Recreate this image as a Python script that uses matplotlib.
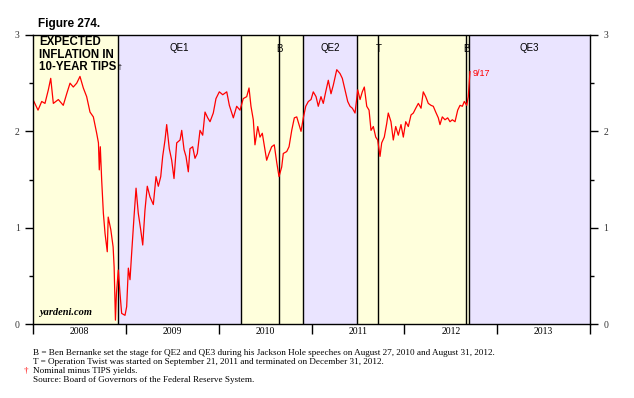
import matplotlib
matplotlib.use('Agg')
import matplotlib.pyplot as plt
import numpy as np

# decimal years and expected inflation (10-yr nominal minus TIPS)
years = [2008.00, 2008.054, 2008.094, 2008.129, 2008.165, 2008.191, 2008.219, 2008.273,
         2008.326, 2008.363, 2008.399, 2008.434, 2008.471, 2008.506, 2008.542, 2008.578,
         2008.614, 2008.650, 2008.686, 2008.705, 2008.714, 2008.725, 2008.740, 2008.758,
         2008.776, 2008.800, 2008.810, 2008.838, 2008.863, 2008.874, 2008.888, 2008.899,
         2008.919, 2008.937, 2008.955, 2008.991, 2009.009, 2009.027, 2009.045, 2009.063,
         2009.088, 2009.110, 2009.134, 2009.160, 2009.182, 2009.206, 2009.231, 2009.260,
         2009.296, 2009.325, 2009.350, 2009.376, 2009.397, 2009.422, 2009.440, 2009.468,
         2009.494, 2009.519, 2009.548, 2009.584, 2009.602, 2009.627, 2009.648, 2009.673,
         2009.691, 2009.720, 2009.745, 2009.770, 2009.799, 2009.828, 2009.853, 2009.882,
         2009.907, 2009.942, 2009.971, 2010.007, 2010.044, 2010.087, 2010.115, 2010.158,
         2010.194, 2010.230, 2010.265, 2010.302, 2010.327, 2010.348, 2010.373, 2010.391,
         2010.421, 2010.445, 2010.470, 2010.499, 2010.517, 2010.542, 2010.571, 2010.599,
         2010.625, 2010.650, 2010.679, 2010.696, 2010.733, 2010.758, 2010.787, 2010.815,
         2010.841, 2010.865, 2010.887, 2010.912, 2010.938, 2010.966, 2010.995, 2011.019,
         2011.049, 2011.073, 2011.102, 2011.127, 2011.153, 2011.181, 2011.210, 2011.235,
         2011.272, 2011.307, 2011.332, 2011.361, 2011.390, 2011.415, 2011.440, 2011.469,
         2011.498, 2011.523, 2011.547, 2011.569, 2011.595, 2011.620, 2011.641, 2011.666,
         2011.692, 2011.713, 2011.738, 2011.756, 2011.784, 2011.810, 2011.827, 2011.856,
         2011.881, 2011.907, 2011.935, 2011.964, 2011.989, 2012.015, 2012.043, 2012.072,
         2012.097, 2012.123, 2012.151, 2012.180, 2012.204, 2012.230, 2012.258, 2012.287,
         2012.312, 2012.338, 2012.366, 2012.384, 2012.409, 2012.438, 2012.467, 2012.492,
         2012.517, 2012.546, 2012.575, 2012.600, 2012.625, 2012.646, 2012.672, 2012.689,
         2012.707]
spread = [2.33, 2.22, 2.31, 2.29, 2.43, 2.55, 2.29, 2.33,
          2.27, 2.39, 2.50, 2.46, 2.50, 2.57, 2.45, 2.36,
          2.20, 2.15, 1.98, 1.88, 1.60, 1.84, 1.49, 1.15,
          0.94, 0.75, 1.11, 0.98, 0.80, 0.59, 0.04, 0.32,
          0.56, 0.32, 0.11, 0.09, 0.18, 0.58, 0.46, 0.74,
          1.11, 1.41, 1.15, 0.98, 0.82, 1.18, 1.43, 1.32,
          1.24, 1.53, 1.43, 1.53, 1.74, 1.91, 2.07, 1.82,
          1.70, 1.51, 1.88, 1.91, 2.01, 1.81, 1.74, 1.58,
          1.82, 1.84, 1.72, 1.77, 2.01, 1.96, 2.20, 2.14,
          2.10, 2.19, 2.34, 2.41, 2.38, 2.41, 2.27, 2.14,
          2.26, 2.22, 2.34, 2.36, 2.45, 2.26, 2.12, 1.86,
          2.05, 1.94, 1.98, 1.81, 1.70, 1.77, 1.84, 1.86,
          1.68, 1.53, 1.63, 1.77, 1.79, 1.84, 2.01, 2.14,
          2.15, 2.07, 2.00, 2.14, 2.26, 2.31, 2.33, 2.41,
          2.36, 2.26, 2.36, 2.29, 2.41, 2.53, 2.39, 2.48,
          2.64, 2.60, 2.55, 2.43, 2.31, 2.26, 2.24, 2.19,
          2.43, 2.33, 2.41, 2.46, 2.26, 2.22, 2.01, 2.05,
          1.94, 1.91, 1.74, 1.88, 1.94, 2.08, 2.19, 2.10,
          1.91, 2.05, 1.96, 2.07, 1.94, 2.10, 2.05, 2.17,
          2.19, 2.24, 2.29, 2.24, 2.41, 2.36, 2.29, 2.27,
          2.26, 2.20, 2.14, 2.07, 2.15, 2.12, 2.14, 2.10,
          2.12, 2.10, 2.22, 2.27, 2.26, 2.31, 2.27, 2.36,
          2.62]

# QE programs (start, end) and event lines
qe_names = ['QE1', 'QE2', 'QE3']
qe_start = [2008.92, 2010.91, 2012.70]
qe_end = [2010.24, 2011.49, 2014.0]
event_names = ['B', 'T', 'B']
event_dates = [2010.65, 2011.72, 2012.665]

year_labels = ['2008', '2009', '2010', '2011', '2012', '2013']

yellow = '#ffffdc'
lavender = '#eae4ff'
serif = ['Liberation Serif', 'DejaVu Serif']
sans = ['Liberation Sans', 'DejaVu Sans']

fig = plt.figure(figsize=(6.34, 3.98), dpi=100)
ax = fig.add_axes([33 / 634, 1 - 324 / 398, 557 / 634, 289 / 398])
ax.set_xlim(2008, 2014)
ax.set_ylim(0, 3)

ax.axvspan(2008, 2014, color=yellow, zorder=0, lw=0)
for name, s, e in zip(qe_names, qe_start, qe_end):
    ax.axvspan(s, e, color=lavender, zorder=0.5, lw=0)
    ax.axvline(s, color='black', lw=1.0, zorder=1)
    if e < 2014:
        ax.axvline(e, color='black', lw=1.0, zorder=1)
    ax.text((s + e) / 2, 2.87, name, ha='center', va='center', fontsize=7,
            family=sans, zorder=3)
for name, d in zip(event_names, event_dates):
    ax.axvline(d, color='black', lw=1.0, zorder=1)
    ax.text(d, 2.85, name, ha='center', va='center', fontsize=7, family=sans, zorder=3)

ax.plot(years, spread, color='red', lw=0.9, zorder=2)
ax.text(years[-1] + 0.03, spread[-1] - 0.02, '9/17', color='red', fontsize=6.5,
        family=sans, va='center', ha='left', zorder=3)

ax.text(2008.07, 2.985, 'EXPECTED\nINFLATION IN\n10-YEAR TIPS', ha='left', va='top',
        fontsize=8.3, fontweight='bold', family=sans, linespacing=1.05, zorder=3)
ax.text(2008.905, 2.66, '†', ha='left', va='center', fontsize=5, color='black',
        family=sans, zorder=3)
ax.text(2008.07, 0.07, 'yardeni.com', ha='left', va='bottom', fontsize=7.5,
        fontweight='bold', style='italic', family=serif, zorder=3)

# axes styling
for sp in ax.spines.values():
    sp.set_linewidth(1.0)
    sp.set_zorder(4)
ax.set_yticks([0, 1, 2, 3])
ax.set_yticks(np.arange(0.5, 3, 1.0), minor=True)
ax.tick_params(axis='y', which='both', left=True, right=True, labelleft=True,
               labelright=True, direction='out', labelsize=7, colors='black',
               labelcolor='#333333')
ax.tick_params(axis='y', which='major', length=6, width=1)
ax.tick_params(axis='y', which='minor', length=3, width=1)
for lbl in ax.get_yticklabels():
    lbl.set_family(serif)

ax.set_xticks(np.arange(2008, 2015))
ax.set_xticklabels([])
ax.tick_params(axis='x', which='major', length=7, width=1, direction='out')
for i, lab in enumerate(year_labels):
    ax.text(2008.5 + i, -0.035, lab, ha='center', va='top', fontsize=7,
            family=serif, transform=ax.transData)

fig.text(38 / 634, 1 - 24 / 398, 'Figure 274.', fontsize=8.5, fontweight='bold',
         family=sans, ha='left', va='center')

notes = ['B = Ben Bernanke set the stage for QE2 and QE3 during his Jackson Hole speeches on August 27, 2010 and August 31, 2012.',
         'T = Operation Twist was started on September 21, 2011 and terminated on December 31, 2012.',
         'Nominal minus TIPS yields.',
         'Source: Board of Governors of the Federal Reserve System.']
for i, n in enumerate(notes):
    fig.text(33 / 634, 1 - (353 + 9 * i) / 398, n, fontsize=6.6, family=serif,
             ha='left', va='center')
fig.text(24 / 634, 1 - 371 / 398, '†', fontsize=6.6, color='red', family=serif,
         ha='left', va='center')

fig.savefig('out.png', dpi=100)
